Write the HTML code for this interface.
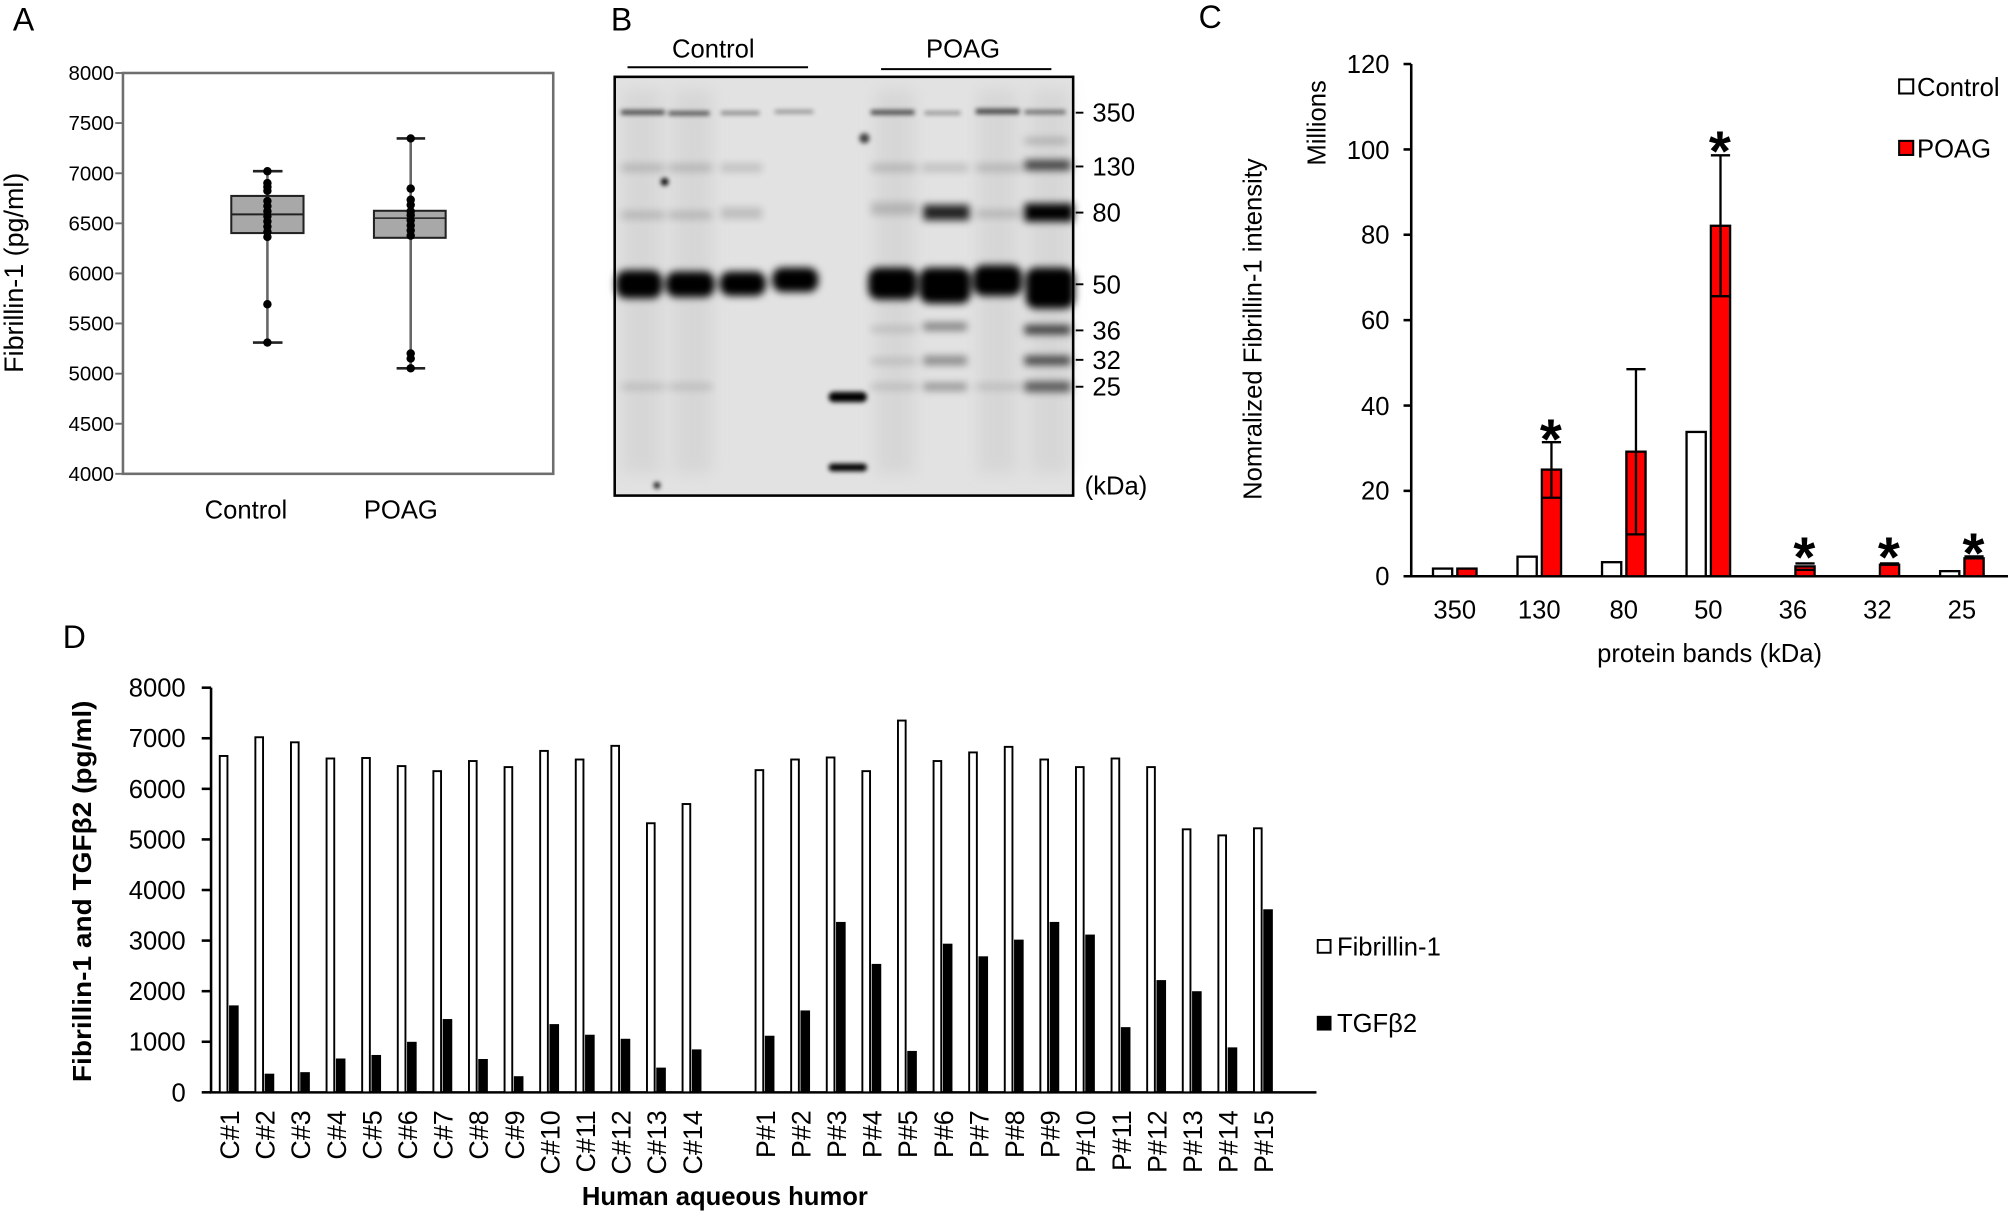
<!DOCTYPE html>
<html><head><meta charset="utf-8"><style>
html,body{margin:0;padding:0;background:#fff;}
svg{display:block;}
text{font-family:"Liberation Sans",Arial,sans-serif;fill:#000;}
</style></head><body>
<svg width="2008" height="1214" viewBox="0 0 1568 948" xmlns="http://www.w3.org/2000/svg">
<defs>
<filter id="bl" x="-30%" y="-100%" width="160%" height="300%"><feGaussianBlur stdDeviation="3.2"/></filter>
<filter id="bl2" x="-30%" y="-100%" width="160%" height="300%"><feGaussianBlur stdDeviation="1.8"/></filter>
<filter id="bl3" x="-10%" y="-10%" width="120%" height="120%"><feGaussianBlur stdDeviation="6"/></filter>
</defs>
<rect width="1568" height="948" fill="#fff"/>

<text x="10" y="24" font-size="25">A</text>
<text x="477" y="24" font-size="25">B</text>
<text x="936" y="22" font-size="25">C</text>
<text x="49" y="506" font-size="25">D</text>

<!-- Panel A -->
<g>
<rect x="96" y="57" width="336" height="313" fill="none" stroke="#6e6e6e" stroke-width="2"/>
<g stroke="#6e6e6e" stroke-width="1.5">
<line x1="90" y1="57" x2="96" y2="57"/><line x1="90" y1="96.1" x2="96" y2="96.1"/>
<line x1="90" y1="135.3" x2="96" y2="135.3"/><line x1="90" y1="174.4" x2="96" y2="174.4"/>
<line x1="90" y1="213.5" x2="96" y2="213.5"/><line x1="90" y1="252.6" x2="96" y2="252.6"/>
<line x1="90" y1="291.8" x2="96" y2="291.8"/><line x1="90" y1="330.9" x2="96" y2="330.9"/>
<line x1="90" y1="370" x2="96" y2="370"/>
</g>
<g font-size="16" text-anchor="end">
<text x="89" y="62.5">8000</text><text x="89" y="101.6">7500</text><text x="89" y="140.8">7000</text>
<text x="89" y="179.9">6500</text><text x="89" y="219">6000</text><text x="89" y="258.1">5500</text>
<text x="89" y="297.3">5000</text><text x="89" y="336.4">4500</text><text x="89" y="375.5">4000</text>
</g>
<text transform="translate(18,213) rotate(-90)" font-size="21" text-anchor="middle">Fibrillin-1 (pg/ml)</text>
<text x="192" y="405" font-size="20" text-anchor="middle">Control</text>
<text x="313" y="405" font-size="20" text-anchor="middle">POAG</text>
<line x1="208.8" y1="133.7" x2="208.8" y2="267.5" stroke="#666" stroke-width="2"/>
<line x1="197.5" y1="133.7" x2="220.6" y2="133.7" stroke="#222" stroke-width="2"/>
<line x1="197.5" y1="267.5" x2="220.6" y2="267.5" stroke="#222" stroke-width="2"/>
<rect x="180.6" y="153" width="56.4" height="29" fill="#a8a8a8" stroke="#222" stroke-width="1.6"/>
<line x1="180.6" y1="167.4" x2="237" y2="167.4" stroke="#222" stroke-width="1.6"/>
<line x1="320.7" y1="108.1" x2="320.7" y2="287.6" stroke="#666" stroke-width="2"/>
<line x1="309.7" y1="108.1" x2="332" y2="108.1" stroke="#222" stroke-width="2"/>
<line x1="309.7" y1="287.6" x2="332" y2="287.6" stroke="#222" stroke-width="2"/>
<rect x="292" y="164.6" width="56" height="21.1" fill="#a8a8a8" stroke="#222" stroke-width="1.6"/>
<line x1="292" y1="170.3" x2="348" y2="170.3" stroke="#222" stroke-width="1.2"/>
<g fill="#000">
<circle cx="208.8" cy="133.7" r="3.3"/><circle cx="208.8" cy="143" r="3.3"/><circle cx="208.8" cy="146" r="3.3"/>
<circle cx="208.8" cy="149" r="3.3"/><circle cx="208.8" cy="157" r="3.3"/><circle cx="208.8" cy="161" r="3.3"/>
<circle cx="208.8" cy="165" r="3.3"/><circle cx="208.8" cy="169" r="3.3"/><circle cx="208.8" cy="173" r="3.3"/>
<circle cx="208.8" cy="177" r="3.3"/><circle cx="208.8" cy="181" r="3.3"/><circle cx="208.8" cy="185" r="3.3"/>
<circle cx="208.8" cy="237.6" r="3.3"/><circle cx="208.8" cy="267.5" r="3.3"/>
<circle cx="320.7" cy="108.1" r="3.3"/><circle cx="320.7" cy="147.3" r="3.3"/><circle cx="320.7" cy="156" r="3.3"/>
<circle cx="320.7" cy="160" r="3.3"/><circle cx="320.7" cy="165" r="3.3"/><circle cx="320.7" cy="168" r="3.3"/>
<circle cx="320.7" cy="172" r="3.3"/><circle cx="320.7" cy="176" r="3.3"/><circle cx="320.7" cy="180" r="3.3"/>
<circle cx="320.7" cy="184" r="3.3"/><circle cx="320.7" cy="276" r="3.3"/><circle cx="320.7" cy="280" r="3.3"/>
<circle cx="320.7" cy="287.6" r="3.3"/>
</g>
</g>

<!-- Panel B -->
<g>
<text x="557" y="45" font-size="20" text-anchor="middle">Control</text>
<text x="752" y="45" font-size="20" text-anchor="middle">POAG</text>
<line x1="490" y1="52.5" x2="631" y2="52.5" stroke="#000" stroke-width="1.6"/>
<line x1="688" y1="54" x2="821" y2="54" stroke="#000" stroke-width="1.6"/>
<rect x="480" y="60" width="358" height="327" fill="#e2e2e2"/>
<g filter="url(#bl3)" fill="#cfcfcf" opacity="0.6">
<rect x="486" y="70" width="30" height="300"/><rect x="526" y="70" width="30" height="300"/>
<rect x="684" y="70" width="30" height="300"/><rect x="764" y="70" width="30" height="300"/>
<rect x="805" y="70" width="30" height="300"/>
</g>
<g fill="#000">
<g filter="url(#bl2)" opacity="0.7">
<rect x="485" y="86" width="34" height="3.5"/><rect x="522" y="87" width="32" height="3"/>
<rect x="563" y="87" width="30" height="2.5" opacity="0.7"/><rect x="605" y="86" width="30" height="2.5" opacity="0.6"/>
<rect x="680" y="86" width="34" height="3.5"/><rect x="722" y="87" width="28" height="2.5" opacity="0.6"/>
<rect x="762" y="85" width="34" height="4"/><rect x="800" y="86" width="32" height="3" opacity="0.8"/>
</g>
<g filter="url(#bl)" opacity="0.16">
<rect x="485" y="128" width="34" height="6"/><rect x="522" y="128" width="34" height="6"/><rect x="563" y="128" width="32" height="6"/>
<rect x="485" y="165" width="34" height="6"/><rect x="522" y="165" width="34" height="6"/><rect x="563" y="162" width="32" height="9"/>
<rect x="680" y="128" width="36" height="6"/><rect x="720" y="128" width="36" height="6"/><rect x="762" y="128" width="36" height="6"/>
<rect x="680" y="158" width="36" height="10"/><rect x="762" y="164" width="36" height="6"/>
<rect x="485" y="300" width="34" height="4"/><rect x="522" y="300" width="34" height="4"/><rect x="680" y="300" width="36" height="4"/><rect x="762" y="300" width="36" height="4"/>
<rect x="680" y="255" width="36" height="4"/><rect x="680" y="280" width="36" height="4"/>
</g>
<g filter="url(#bl)">
<rect x="800" y="125" width="36" height="8" opacity="0.7"/>
<rect x="721" y="160" width="36" height="12" opacity="0.85"/>
<rect x="800" y="159" width="38" height="14"/>
<rect x="721" y="252" width="34" height="6" opacity="0.45"/><rect x="721" y="278" width="34" height="7" opacity="0.4"/><rect x="721" y="299" width="34" height="6" opacity="0.35"/>
<rect x="800" y="254" width="36" height="7" opacity="0.75"/><rect x="800" y="278" width="36" height="7" opacity="0.7"/><rect x="800" y="298" width="36" height="8" opacity="0.6"/>
<rect x="800" y="108" width="34" height="4" opacity="0.25"/>
</g>
<g filter="url(#bl)">
<rect x="481" y="211" width="36" height="22" rx="8"/>
<rect x="520" y="212" width="38" height="20" rx="8"/>
<rect x="562" y="212" width="36" height="19" rx="8"/>
<rect x="603" y="209" width="36" height="19" rx="8"/>
<rect x="678" y="209" width="38" height="25" rx="8"/>
<rect x="718" y="209" width="40" height="28" rx="8"/>
<rect x="760" y="207" width="38" height="24" rx="8"/>
<rect x="801" y="209" width="38" height="32" rx="8"/>
</g>
<g filter="url(#bl2)">
<rect x="647" y="306" width="30" height="8" rx="4"/>
<rect x="647" y="362" width="30" height="6" rx="3"/>
<circle cx="675" cy="108" r="4" opacity="0.7"/>
<circle cx="513" cy="379" r="2.5"/>
<circle cx="519" cy="142" r="3"/>
</g>
</g>
<rect x="480" y="60" width="358" height="327" fill="none" stroke="#000" stroke-width="2"/>
<g stroke="#000" stroke-width="1.5">
<line x1="840" y1="88" x2="846" y2="88"/><line x1="840" y1="130" x2="846" y2="130"/>
<line x1="840" y1="166" x2="846" y2="166"/><line x1="840" y1="222" x2="846" y2="222"/>
<line x1="840" y1="258" x2="846" y2="258"/><line x1="840" y1="281" x2="846" y2="281"/>
<line x1="840" y1="302" x2="846" y2="302"/>
</g>
<g font-size="20">
<text x="853" y="95">350</text><text x="853" y="137">130</text><text x="853" y="173">80</text>
<text x="853" y="229">50</text><text x="853" y="265">36</text><text x="853" y="288">32</text>
<text x="853" y="309">25</text><text x="847" y="386">(kDa)</text>
</g>
</g>

<!-- Panel C -->
<g>
<line x1="1102" y1="50" x2="1102" y2="450" stroke="#000" stroke-width="2"/>
<line x1="1096" y1="450" x2="1568" y2="450" stroke="#000" stroke-width="2"/>
<g stroke="#000" stroke-width="2">
<line x1="1096" y1="50" x2="1102" y2="50"/><line x1="1096" y1="116.7" x2="1102" y2="116.7"/>
<line x1="1096" y1="183.3" x2="1102" y2="183.3"/><line x1="1096" y1="250" x2="1102" y2="250"/>
<line x1="1096" y1="316.7" x2="1102" y2="316.7"/><line x1="1096" y1="383.3" x2="1102" y2="383.3"/>
</g>
<g font-size="20" text-anchor="end">
<text x="1085" y="57">120</text><text x="1085" y="124">100</text><text x="1085" y="190">80</text>
<text x="1085" y="257">60</text><text x="1085" y="324">40</text><text x="1085" y="390">20</text>
<text x="1085" y="457">0</text>
</g>
<text transform="translate(1035,96) rotate(-90)" font-size="20" text-anchor="middle">Millions</text>
<text transform="translate(985,257) rotate(-90)" font-size="20" text-anchor="middle">Nomralized Fibrillin-1 intensity</text>
<g font-size="20" text-anchor="middle">
<text x="1136" y="483">350</text><text x="1202" y="483">130</text><text x="1268" y="483">80</text>
<text x="1334" y="483">50</text><text x="1400" y="483">36</text><text x="1466" y="483">32</text>
<text x="1532" y="483">25</text>
</g>
<text x="1335" y="517" font-size="20" text-anchor="middle">protein bands (kDa)</text>
<g stroke="#000" stroke-width="1.8">
<rect x="1119" y="444" width="15" height="6" fill="#fff"/>
<rect x="1138" y="444" width="15" height="6" fill="#f00"/>
<rect x="1185" y="434.7" width="15" height="15.3" fill="#fff"/>
<rect x="1204" y="366.7" width="15" height="83.3" fill="#f00"/>
<rect x="1251" y="439" width="15" height="11" fill="#fff"/>
<rect x="1270" y="352.7" width="15" height="97.3" fill="#f00"/>
<rect x="1317" y="337.3" width="15" height="112.7" fill="#fff"/>
<rect x="1336" y="176.3" width="15" height="273.7" fill="#f00"/>
<rect x="1402" y="442.3" width="15" height="7.7" fill="#f00"/>
<rect x="1468" y="441" width="15" height="9" fill="#f00"/>
<rect x="1515" y="446" width="15" height="4" fill="#fff"/>
<rect x="1534" y="436" width="15" height="14" fill="#f00"/>
</g>
<g stroke="#000" stroke-width="1.8">
<line x1="1211.5" y1="345.3" x2="1211.5" y2="388.7"/><line x1="1204" y1="345.3" x2="1219" y2="345.3"/><line x1="1204" y1="388.7" x2="1219" y2="388.7"/>
<line x1="1277.5" y1="288.3" x2="1277.5" y2="417.3"/><line x1="1270" y1="288.3" x2="1285" y2="288.3"/><line x1="1270" y1="417.3" x2="1285" y2="417.3"/>
<line x1="1343.5" y1="121.3" x2="1343.5" y2="231.3"/><line x1="1336" y1="121.3" x2="1351" y2="121.3"/><line x1="1336" y1="231.3" x2="1351" y2="231.3"/>
<line x1="1402" y1="440" x2="1417" y2="440"/><line x1="1402" y1="445" x2="1417" y2="445"/>
<line x1="1468" y1="440" x2="1483" y2="440"/><line x1="1534" y1="434.5" x2="1549" y2="434.5"/>
</g>
<g font-size="44" font-weight="bold" text-anchor="middle">
<text x="1211" y="358">*</text><text x="1343" y="133">*</text><text x="1409" y="450">*</text>
<text x="1475" y="450">*</text><text x="1541" y="447">*</text>
</g>
<rect x="1483" y="62" width="11" height="11" fill="#fff" stroke="#000" stroke-width="1.6"/>
<text x="1497" y="75" font-size="20">Control</text>
<rect x="1483" y="110" width="11" height="11" fill="#f00" stroke="#000" stroke-width="1.6"/>
<text x="1497" y="123" font-size="20">POAG</text>
</g>

<!-- Panel D -->
<g>
<line x1="164.8" y1="537" x2="164.8" y2="853" stroke="#000" stroke-width="2"/>
<line x1="164" y1="853" x2="1028" y2="853" stroke="#000" stroke-width="2"/>
<g stroke="#000" stroke-width="2">
<line x1="157.5" y1="537" x2="164.8" y2="537"/><line x1="157.5" y1="576.5" x2="164.8" y2="576.5"/>
<line x1="157.5" y1="616" x2="164.8" y2="616"/><line x1="157.5" y1="655.5" x2="164.8" y2="655.5"/>
<line x1="157.5" y1="695" x2="164.8" y2="695"/><line x1="157.5" y1="734.5" x2="164.8" y2="734.5"/>
<line x1="157.5" y1="774" x2="164.8" y2="774"/><line x1="157.5" y1="813.5" x2="164.8" y2="813.5"/>
<line x1="157.5" y1="853" x2="164.8" y2="853"/>
</g>
<g font-size="20" text-anchor="end">
<text x="145" y="544">8000</text><text x="145" y="583.5">7000</text><text x="145" y="623">6000</text>
<text x="145" y="662.5">5000</text><text x="145" y="702">4000</text><text x="145" y="741.5">3000</text>
<text x="145" y="781">2000</text><text x="145" y="820.5">1000</text><text x="145" y="860">0</text>
</g>
<text transform="translate(71,696) rotate(-90)" font-size="20" font-weight="bold" text-anchor="middle" textLength="298" lengthAdjust="spacingAndGlyphs">Fibrillin-1 and TGFβ2 (pg/ml)</text>
<text x="566" y="941" font-size="20" font-weight="bold" text-anchor="middle">Human aqueous humor</text>
<g id="bars" stroke="#000" stroke-width="1.5"></g>
<g id="labs" font-size="21" text-anchor="end"></g>
<rect x="1029" y="734" width="10" height="10" fill="#fff" stroke="#000" stroke-width="1.5"/>
<text x="1044" y="746" font-size="20">Fibrillin-1</text>
<rect x="1029" y="794" width="10" height="10" fill="#000" stroke="#000" stroke-width="1.5"/>
<text x="1044" y="806" font-size="20">TGFβ2</text>
</g>
<script>
(function(){
var NS="http://www.w3.org/2000/svg";
var fc=[6650,7020,6920,6600,6610,6450,6350,6550,6430,6750,6580,6850,5320,5700];
var tc=[1700,350,380,650,720,980,1430,640,300,1330,1120,1040,470,830];
var fp=[6370,6580,6620,6350,7350,6550,6720,6830,6580,6430,6600,6430,5200,5080,5220];
var tp=[1100,1600,3350,2520,800,2920,2670,3000,3350,3100,1270,2200,1980,870,3600];
var bars=document.getElementById("bars"),labs=document.getElementById("labs");
function add(x,f,t,lab){
  var y0=853,k=0.0395;
  var r=document.createElementNS(NS,"rect");
  r.setAttribute("x",x-8);r.setAttribute("y",y0-f*k);r.setAttribute("width",6);r.setAttribute("height",f*k);r.setAttribute("fill","#fff");
  bars.appendChild(r);
  var b=document.createElementNS(NS,"rect");
  b.setAttribute("x",x);b.setAttribute("y",y0-t*k);b.setAttribute("width",6);b.setAttribute("height",t*k);b.setAttribute("fill","#000");
  bars.appendChild(b);
  var tx=document.createElementNS(NS,"text");
  tx.setAttribute("transform","translate("+(x+7)+",867) rotate(-90)");
  tx.textContent=lab;labs.appendChild(tx);
}
for(var i=0;i<14;i++)add(179.6+i*27.8,fc[i],tc[i],"C#"+(i+1));
for(var j=0;j<15;j++)add(598+j*27.8,fp[j],tp[j],"P#"+(j+1));
})();
</script>
</svg>
</body></html>
